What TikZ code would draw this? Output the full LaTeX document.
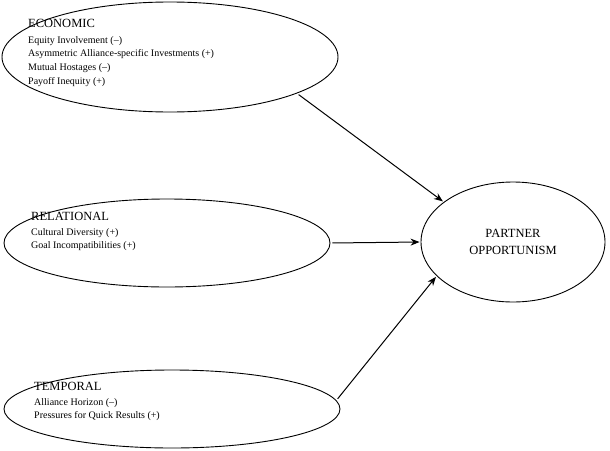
\documentclass[tikz,border=0pt]{standalone}
\usepackage{fontspec}
\setmainfont{Liberation Serif}
\usetikzlibrary{shapes.geometric,arrows.meta,positioning}
\tikzset{
	factor/.style={draw, ellipse, line width=0.9pt, inner sep=0pt},
	head/.style={anchor=north west, inner sep=0pt, font=\fontsize{12.5}{13}\selectfont},
	items/.style={anchor=north west, inner sep=0pt, align=left, font=\fontsize{10}{13.8}\selectfont},
	link/.style={line width=1pt, -{Stealth[length=9pt,width=7pt]}, shorten <=2pt, shorten >=1pt}
}
\begin{document}
\begin{tikzpicture}[x=1pt,y=-1pt]
	\useasboundingbox (0,0) rectangle (610,450);
	% factor groups
	\node[factor, minimum width=336, minimum height=110] (eco) at (170,57) {};
	\node[factor, minimum width=326, minimum height=88] (rel) at (167,243) {};
	\node[factor, minimum width=336, minimum height=78] (tem) at (172,409) {};
	\node[factor, minimum width=184, minimum height=120] (po) at (513,242) {};
	\node[head] (ecoh) at (28,19) {ECONOMIC};
	\node[items] (ecoi) at (28,36) {Equity Involvement (--)\\Asymmetric Alliance-specific Investments (+)\\Mutual Hostages (--)\\Payoff Inequity (+)};
	\node[head] (relh) at (31,212) {RELATIONAL};
	\node[items] (reli) at (31,228) {Cultural Diversity (+)\\Goal Incompatibilities (+)};
	\node[head] (temh) at (34,382) {TEMPORAL};
	\node[items] (temi) at (34,398) {Alliance Horizon (--)\\Pressures for Quick Results (+)};
	\node[align=center, font=\fontsize{12.5}{17}\selectfont] (pol) at (513,242) {PARTNER\\OPPORTUNISM};
	% links
	\draw[link] (eco.-16) -- (po.150);
	\draw[link] (rel.0) -- (po.180);
	\draw[link] (tem.3) -- (po.204);
\end{tikzpicture}
\end{document}
